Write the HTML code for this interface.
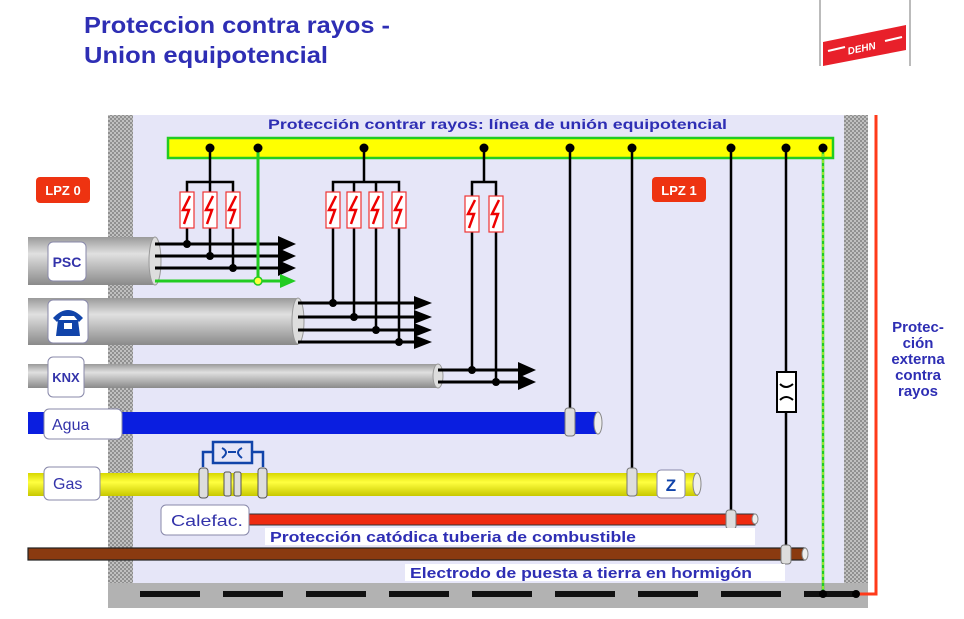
<!DOCTYPE html>
<html><head><meta charset="utf-8"><style>
html,body{margin:0;padding:0;background:#fff;}
svg{display:block;font-family:"Liberation Sans",Arial,sans-serif;}
</style></head><body>
<svg width="964" height="619" viewBox="0 0 964 619" xmlns="http://www.w3.org/2000/svg">
<defs>
<pattern id="dot" width="4" height="4" patternUnits="userSpaceOnUse"><rect width="4" height="4" fill="#c0c0c0"/><rect width="2" height="2" fill="#909090"/><rect x="2" y="2" width="2" height="2" fill="#909090"/></pattern>
<linearGradient id="gc" x1="0" y1="0" x2="0" y2="1"><stop offset="0" stop-color="#9a9a9a"/><stop offset="0.35" stop-color="#e0e0e0"/><stop offset="1" stop-color="#8a8a8a"/></linearGradient>
<linearGradient id="gy" x1="0" y1="0" x2="0" y2="1"><stop offset="0" stop-color="#d8d800"/><stop offset="0.4" stop-color="#ffff40"/><stop offset="1" stop-color="#c8c800"/></linearGradient>
<g id="spd"><rect x="-7" y="0" width="14" height="36" fill="#fff" stroke="#e33" stroke-width="1.2"/><path d="M3 4 L-4 18 L2 18 L-3 32" fill="none" stroke="#e00" stroke-width="2.5"/></g>
</defs>
<!-- title -->
<text x="84" y="33" font-size="23" font-weight="bold" fill="#2e2eb4" textLength="306" lengthAdjust="spacingAndGlyphs">Proteccion contra rayos -</text>
<text x="84" y="63" font-size="23" font-weight="bold" fill="#2e2eb4" textLength="244" lengthAdjust="spacingAndGlyphs">Union equipotencial</text>
<!-- DEHN logo -->
<line x1="820" y1="0" x2="820" y2="66" stroke="#bbb" stroke-width="2"/>
<line x1="910" y1="0" x2="910" y2="66" stroke="#bbb" stroke-width="2"/>
<polygon points="823,42 906,25 906,50 823,66" fill="#e8202a"/>
<line x1="828" y1="51" x2="845" y2="47" stroke="#fff" stroke-width="2"/>
<line x1="885" y1="41" x2="902" y2="37" stroke="#fff" stroke-width="2"/>
<text x="847" y="51" font-size="10" font-weight="bold" font-style="italic" fill="#fff" transform="rotate(-12 865 46)">DEHN</text>
<!-- inner area -->
<rect x="133" y="115" width="711" height="468" fill="#e6e6f8"/>
<rect x="108" y="115" width="25" height="470" fill="url(#dot)"/>
<rect x="844" y="115" width="24" height="470" fill="url(#dot)"/>
<rect x="108" y="583" width="760" height="25" fill="#b2b2b2"/>
<g fill="#111">
<rect x="140" y="591" width="60" height="6"/><rect x="223" y="591" width="60" height="6"/><rect x="306" y="591" width="60" height="6"/><rect x="389" y="591" width="60" height="6"/><rect x="472" y="591" width="60" height="6"/><rect x="555" y="591" width="60" height="6"/><rect x="638" y="591" width="60" height="6"/><rect x="721" y="591" width="60" height="6"/><rect x="804" y="591" width="52" height="6"/>
</g>
<polyline points="876,115 876,594 856,594" fill="none" stroke="#ff3a1a" stroke-width="3"/>
<!-- bus title -->
<text x="268" y="129" font-size="14" font-weight="bold" fill="#2e2eb4" textLength="459" lengthAdjust="spacingAndGlyphs">Protección contrar rayos: línea de unión equipotencial</text>
<rect x="168" y="138" width="665" height="20" fill="#ffff00" stroke="#22cc22" stroke-width="2.5"/>
<!-- LPZ labels -->
<rect x="36" y="177" width="54" height="26" rx="4" fill="#ee3311"/>
<text x="63" y="195" text-anchor="middle" font-size="13" font-weight="bold" fill="#fff">LPZ 0</text>
<rect x="652" y="177" width="54" height="25" rx="4" fill="#ee3311"/>
<text x="679" y="195" text-anchor="middle" font-size="13" font-weight="bold" fill="#fff">LPZ 1</text>
<!-- right text -->
<g font-size="15" font-weight="bold" fill="#2e2eb4" text-anchor="middle">
<text x="918" y="332">Protec-</text><text x="918" y="348">ción</text><text x="918" y="364">externa</text><text x="918" y="380">contra</text><text x="918" y="396">rayos</text>
</g>
<!-- green dashed lines -->
<line x1="823" y1="148" x2="823" y2="594" stroke="#22cc22" stroke-width="2.5"/>
<line x1="823" y1="148" x2="823" y2="594" stroke="#ffff40" stroke-width="1" stroke-dasharray="3 3"/>
<!-- cables -->
<rect x="28" y="237" width="127" height="48" fill="url(#gc)"/>
<ellipse cx="155" cy="261" rx="6" ry="24" fill="#ddd" stroke="#999"/>
<rect x="28" y="298" width="270" height="47" fill="url(#gc)"/>
<ellipse cx="298" cy="321" rx="6" ry="23" fill="#ddd" stroke="#999"/>
<rect x="28" y="364" width="410" height="24" fill="url(#gc)"/>
<ellipse cx="438" cy="376" rx="5" ry="12" fill="#ddd" stroke="#999"/>
<g stroke="#000" stroke-width="3" fill="none">
<line x1="155" y1="244" x2="284" y2="244"/><line x1="155" y1="256" x2="284" y2="256"/><line x1="155" y1="268" x2="284" y2="268"/>
<line x1="298" y1="303" x2="418" y2="303"/><line x1="298" y1="317" x2="418" y2="317"/><line x1="298" y1="330" x2="418" y2="330"/><line x1="298" y1="342" x2="418" y2="342"/>
<line x1="438" y1="370" x2="522" y2="370"/><line x1="438" y1="382" x2="522" y2="382"/>
</g>
<g fill="#000">
<polygon points="278,236 296,244 278,252"/><polygon points="278,248 296,256 278,264"/><polygon points="278,260 296,268 278,276"/>
<polygon points="414,296 432,303 414,310"/><polygon points="414,310 432,317 414,324"/><polygon points="414,323 432,330 414,337"/><polygon points="414,335 432,342 414,349"/>
<polygon points="518,362 536,370 518,378"/><polygon points="518,374 536,382 518,390"/>
</g>
<polyline points="258,148 258,281 155,281" fill="none" stroke="#22cc22" stroke-width="3"/>
<line x1="258" y1="281" x2="282" y2="281" stroke="#22cc22" stroke-width="3"/>
<polygon points="280,274 296,281 280,288" fill="#22cc22"/>
<circle cx="258" cy="281" r="4" fill="#ffff40" stroke="#22cc22" stroke-width="1.5"/>
<g stroke="#000" stroke-width="2.5" fill="none">
<line x1="210" y1="148" x2="210" y2="182"/><polyline points="187,192 187,182 233,182 233,192"/><line x1="210" y1="182" x2="210" y2="192"/>
<line x1="187" y1="228" x2="187" y2="244"/><line x1="210" y1="228" x2="210" y2="256"/><line x1="233" y1="228" x2="233" y2="268"/>
<line x1="364" y1="148" x2="364" y2="182"/><polyline points="333,192 333,182 399,182 399,192"/><line x1="354" y1="182" x2="354" y2="192"/><line x1="376" y1="182" x2="376" y2="192"/>
<line x1="333" y1="228" x2="333" y2="303"/><line x1="354" y1="228" x2="354" y2="317"/><line x1="376" y1="228" x2="376" y2="330"/><line x1="399" y1="228" x2="399" y2="342"/>
<line x1="484" y1="148" x2="484" y2="182"/><polyline points="472,196 472,182 496,182 496,196"/>
<line x1="472" y1="232" x2="472" y2="370"/><line x1="496" y1="232" x2="496" y2="382"/>
<line x1="570" y1="148" x2="570" y2="412"/><line x1="632" y1="148" x2="632" y2="472"/><line x1="731" y1="148" x2="731" y2="514"/><line x1="786" y1="148" x2="786" y2="548"/>
</g>
<use href="#spd" x="187" y="192"/><use href="#spd" x="210" y="192"/><use href="#spd" x="233" y="192"/>
<use href="#spd" x="333" y="192"/><use href="#spd" x="354" y="192"/><use href="#spd" x="376" y="192"/><use href="#spd" x="399" y="192"/>
<use href="#spd" x="472" y="196"/><use href="#spd" x="496" y="196"/>
<g fill="#000">
<circle cx="210" cy="148" r="4.5"/><circle cx="258" cy="148" r="4.5"/><circle cx="364" cy="148" r="4.5"/><circle cx="484" cy="148" r="4.5"/><circle cx="570" cy="148" r="4.5"/><circle cx="632" cy="148" r="4.5"/><circle cx="731" cy="148" r="4.5"/><circle cx="786" cy="148" r="4.5"/><circle cx="823" cy="148" r="4.5"/>
<circle cx="187" cy="244" r="4"/><circle cx="210" cy="256" r="4"/><circle cx="233" cy="268" r="4"/>
<circle cx="333" cy="303" r="4"/><circle cx="354" cy="317" r="4"/><circle cx="376" cy="330" r="4"/><circle cx="399" cy="342" r="4"/>
<circle cx="472" cy="370" r="4"/><circle cx="496" cy="382" r="4"/>
<circle cx="823" cy="594" r="4"/><circle cx="856" cy="594" r="4"/>
</g>
<rect x="48" y="242" width="38" height="39" rx="5" fill="#fff" stroke="#8888aa"/>
<text x="67" y="267" text-anchor="middle" font-size="14" font-weight="bold" fill="#3333aa">PSC</text>
<rect x="48" y="300" width="40" height="43" rx="5" fill="#fff" stroke="#8888aa"/>
<path d="M53 318 Q68 302 83 318 L79 322 L74 316 L62 316 L57 322Z M58 320 L78 320 L80 336 L56 336Z" fill="#1144aa"/>
<rect x="64" y="323" width="8" height="6" fill="#fff"/>
<rect x="48" y="357" width="36" height="40" rx="5" fill="#fff" stroke="#8888aa"/>
<text x="66" y="382" text-anchor="middle" font-size="13" font-weight="bold" fill="#3333aa">KNX</text>
<rect x="28" y="412" width="570" height="22" fill="#0a1ee0"/>
<ellipse cx="598" cy="423" rx="4" ry="11" fill="#eee" stroke="#888"/>
<rect x="565" y="408" width="10" height="28" rx="3" fill="#ddd" stroke="#777"/>
<rect x="44" y="409" width="78" height="30" rx="5" fill="#fff" stroke="#8888aa"/>
<text x="52" y="430" font-size="16" fill="#3333aa">Agua</text>
<rect x="28" y="473" width="670" height="23" fill="url(#gy)"/>
<ellipse cx="697" cy="484" rx="4" ry="11" fill="#eee" stroke="#888"/>
<path d="M203 467 V452 H213 M252 452 H263 V467" fill="none" stroke="#1144aa" stroke-width="2.5"/>
<rect x="213" y="442" width="39" height="21" fill="#e6e6f8" stroke="#1144aa" stroke-width="2.5"/>
<path d="M222 448 Q230 452 222 458 M242 448 Q234 452 242 458 M228 452 H236" fill="none" stroke="#1144aa" stroke-width="2"/>
<rect x="199" y="468" width="9" height="30" rx="3" fill="#ddd" stroke="#555"/>
<rect x="258" y="468" width="9" height="30" rx="3" fill="#ddd" stroke="#555"/>
<rect x="224" y="472" width="7" height="24" rx="2" fill="#ddd" stroke="#555"/>
<rect x="234" y="472" width="7" height="24" rx="2" fill="#ddd" stroke="#555"/>
<rect x="627" y="468" width="10" height="28" rx="3" fill="#ddd" stroke="#777"/>
<rect x="657" y="470" width="28" height="28" rx="4" fill="#fff" stroke="#8888aa"/>
<text x="671" y="491" text-anchor="middle" font-size="17" font-weight="bold" fill="#1144aa">Z</text>
<rect x="44" y="467" width="56" height="33" rx="5" fill="#fff" stroke="#8888aa"/>
<text x="53" y="489" font-size="16" fill="#3333aa">Gas</text>
<rect x="248" y="514" width="507" height="11" fill="#ee2a10" stroke="#333" stroke-width="1"/>
<ellipse cx="755" cy="519" rx="3" ry="5" fill="#eee" stroke="#888"/>
<rect x="726" y="510" width="10" height="19" rx="3" fill="#ddd" stroke="#777"/>
<rect x="161" y="505" width="88" height="30" rx="5" fill="#fff" stroke="#8888aa"/>
<text x="171" y="526" font-size="16" fill="#3333aa" textLength="72" lengthAdjust="spacingAndGlyphs">Calefac.</text>
<rect x="265" y="528" width="490" height="17" fill="#fff"/>
<text x="270" y="542" font-size="15" font-weight="bold" fill="#2e2eb4" textLength="366" lengthAdjust="spacingAndGlyphs">Protección catódica tuberia de combustible</text>
<rect x="28" y="548" width="777" height="12" fill="#8a3a10" stroke="#222" stroke-width="1.2"/>
<ellipse cx="805" cy="554" rx="3" ry="6" fill="#eee" stroke="#888"/>
<rect x="781" y="545" width="10" height="19" rx="3" fill="#ddd" stroke="#777"/>
<rect x="405" y="564" width="380" height="17" fill="#fff"/>
<text x="410" y="578" font-size="15" font-weight="bold" fill="#2e2eb4" textLength="342" lengthAdjust="spacingAndGlyphs">Electrodo de puesta a tierra en hormigón</text>
<rect x="777" y="372" width="19" height="40" fill="#fff" stroke="#000" stroke-width="2"/>
<path d="M780 384 Q786 390 793 384 M780 400 Q786 394 793 400" fill="none" stroke="#000" stroke-width="2"/>
</svg>
</body></html>
